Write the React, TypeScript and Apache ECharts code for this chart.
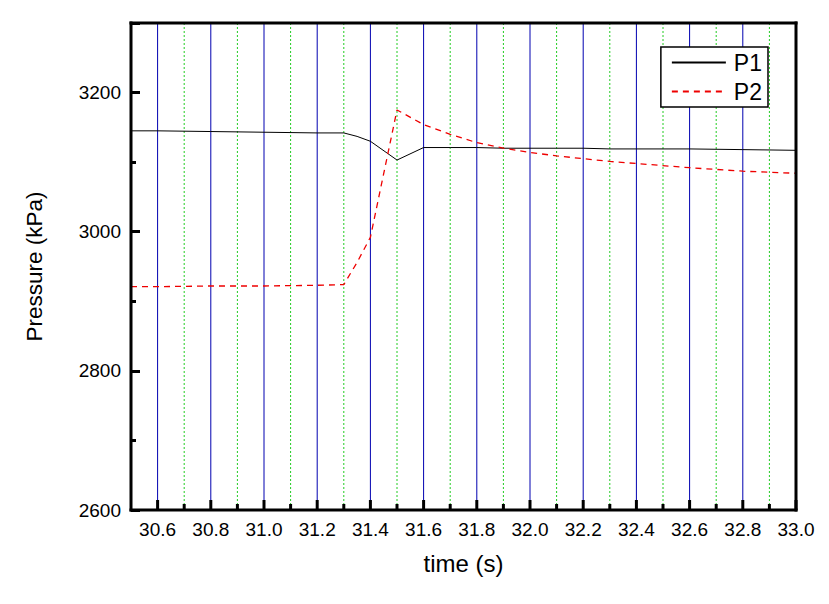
import React, { useEffect, useRef } from "react";
import * as echarts from "echarts";

const time = [30.5, 30.6, 30.8, 31.0, 31.2, 31.3, 31.35, 31.4, 31.5, 31.6, 31.7, 31.8, 31.9, 32.0, 32.1, 32.2, 32.3, 32.4, 32.6, 32.8, 33.0];
const p1 = [3145, 3145, 3144, 3143, 3142, 3142, 3137, 3130, 3103, 3121, 3121, 3121, 3120, 3120, 3120, 3120, 3119, 3119, 3119, 3118, 3117];
const p2 = [2921, 2921, 2922, 2922, 2923, 2924, 2956, 2992, 3175, 3154, 3140, 3128, 3120, 3114, 3109, 3105, 3101, 3098, 3092, 3087, 3084];
const majorTicks = [30.6, 30.8, 31.0, 31.2, 31.4, 31.6, 31.8, 32.0, 32.2, 32.4, 32.6, 32.8, 33.0];
const minorTicks = [30.7, 30.9, 31.1, 31.3, 31.5, 31.7, 31.9, 32.1, 32.3, 32.5, 32.7, 32.9];
const yTicks = [2600, 2800, 3000, 3200];

const FONT = "Liberation Sans, Arial, sans-serif";
const X_MIN = 30.5;
const X_MAX = 33.0;
const Y_MIN = 2600;
const Y_MAX = 3300;

export default function App() {
  const ref = useRef<HTMLDivElement>(null);
  useEffect(() => {
    if (!ref.current) return;
    const chart = echarts.init(ref.current, null, { renderer: "svg" });
    const pairs = (ys: number[]) => time.map((t, i) => [t, ys[i]]);
    const gridData = [
      ...majorTicks.map((v) => [v, 1]),
      ...minorTicks.map((v) => [v, 0]),
    ];
    chart.setOption({
      animation: false,
      backgroundColor: "#fff",
      textStyle: { fontFamily: FONT },
      grid: { left: 131, right: 33, top: 23, bottom: 94, show: false },
      legend: {
        orient: "vertical",
        right: 61,
        top: 47,
        backgroundColor: "#fff",
        borderColor: "#000",
        borderWidth: 1.5,
        borderRadius: 0,
        padding: [4, 6, 4, 10],
        itemWidth: 54,
        itemHeight: 14,
        itemGap: 6,
        itemStyle: { opacity: 0 },
        textStyle: { fontSize: 23, color: "#000", fontFamily: FONT, padding: [0, 0, 0, 3] },
        data: ["P1", "P2"],
        z: 20,
      },
      xAxis: {
        type: "value",
        min: X_MIN,
        max: X_MAX,
        interval: 0.1,
        name: "time (s)",
        nameLocation: "middle",
        nameGap: 41,
        nameTextStyle: { fontSize: 24, color: "#000", fontFamily: FONT },
        axisLine: { show: false },
        axisTick: { show: false },
        axisLabel: {
          fontSize: 19,
          color: "#000",
          margin: 10,
          formatter: (v: number) => (Math.round(v * 10) % 2 === 0 ? v.toFixed(1) : ""),
        },
        splitLine: { show: false },
      },
      yAxis: {
        type: "value",
        min: Y_MIN,
        max: Y_MAX,
        interval: 200,
        name: "Pressure (kPa)",
        nameLocation: "middle",
        nameGap: 85,
        nameTextStyle: { fontSize: 22.5, color: "#000", fontFamily: FONT },
        axisLine: { show: false },
        axisTick: { show: true, inside: true, length: 9, lineStyle: { color: "#000", width: 3 } },
        minorTick: { show: true, splitNumber: 2, length: 5, lineStyle: { color: "#000", width: 3 } },
        axisLabel: {
          fontSize: 19,
          color: "#000",
          margin: 10,
          showMaxLabel: false,
          formatter: (v: number) => (yTicks.includes(v) ? String(v) : ""),
        },
        splitLine: { show: false },
      },
      series: [
        {
          name: "grid",
          type: "custom",
          silent: true,
          z: 1,
          data: gridData,
          encode: { x: 0 },
          renderItem: (params: any, api: any) => {
            const x = api.value(0);
            const major = api.value(1) === 1;
            const top = api.coord([x, Y_MAX]);
            const bottom = api.coord([x, Y_MIN]);
            return {
              type: "group",
              children: [
                {
                  type: "line",
                  shape: { x1: top[0], y1: top[1], x2: bottom[0], y2: bottom[1] },
                  style: major
                    ? { stroke: "#0000b0", lineWidth: 1 }
                    : { stroke: "#22cc22", lineWidth: 1, lineDash: [2, 2] },
                },
                {
                  type: "rect",
                  shape: { x: bottom[0] - 1.5, y: bottom[1] - (major ? 10 : 6), width: 3, height: major ? 10 : 6 },
                  style: { fill: "#000" },
                },
              ],
            };
          },
        },
        {
          name: "frame",
          type: "custom",
          silent: true,
          z: 10,
          data: [[X_MIN, Y_MIN]],
          renderItem: (params: any, api: any) => {
            const tl = api.coord([X_MIN, Y_MAX]);
            const br = api.coord([X_MAX, Y_MIN]);
            const w = 3;
            const x0 = tl[0], y0 = tl[1], x1 = br[0], y1 = br[1];
            return {
              type: "group",
              children: [
                { type: "rect", shape: { x: x0 - w / 2, y: y0 - w / 2, width: x1 - x0 + w, height: w }, style: { fill: "#000" } },
                { type: "rect", shape: { x: x0 - w / 2, y: y1 - w / 2, width: x1 - x0 + w, height: w }, style: { fill: "#000" } },
                { type: "rect", shape: { x: x0 - w / 2, y: y0 - w / 2, width: w, height: y1 - y0 + w }, style: { fill: "#000" } },
                { type: "rect", shape: { x: x1 - w / 2, y: y0 - w / 2, width: w, height: y1 - y0 + w }, style: { fill: "#000" } },
              ],
            };
          },
        },
        {
          name: "P1",
          type: "line",
          data: pairs(p1),
          symbol: "none",
          z: 3,
          lineStyle: { color: "#000", width: 1 },
          itemStyle: { color: "#000" },
        },
        {
          name: "P2",
          type: "line",
          data: pairs(p2),
          symbol: "none",
          z: 3,
          lineStyle: { color: "#ee0000", width: 1.3, type: [6, 5] },
          itemStyle: { color: "#ee0000" },
        },
      ],
    });
    return () => chart.dispose();
  }, []);
  return <div ref={ref} style={{ width: 829, height: 604, position: "absolute", left: 0, top: 0 }} />;
}
